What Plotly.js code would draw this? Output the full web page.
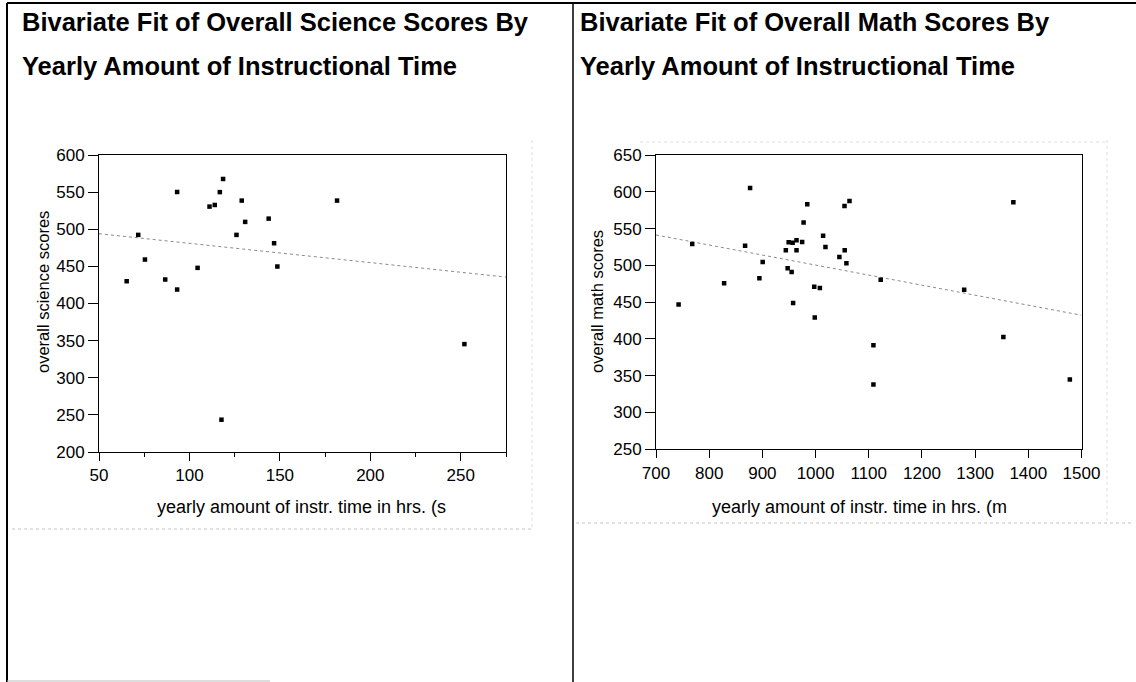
<!DOCTYPE html>
<html>
<head>
<meta charset="utf-8">
<script src="https://cdn.plot.ly/plotly-3.0.1.min.js"></script>
<style>html,body{margin:0;padding:0;background:#fff;}#chart{width:1136px;height:682px;}</style>
</head>
<body>
<div id="chart"></div>
<script>
// ---- Data ----
const sciTitleLines = ["Bivariate Fit of Overall Science Scores By", "Yearly Amount of Instructional Time"];
const mathTitleLines = ["Bivariate Fit of Overall Math Scores By", "Yearly Amount of Instructional Time"];
const sciXLabel = "yearly amount of instr. time in hrs. (s";
const sciYLabel = "overall science scores";
const mathXLabel = "yearly amount of instr. time in hrs. (m";
const mathYLabel = "overall math scores";

const sciTime  = [118.6, 93.2, 116.8, 128.9, 181.6, 111.1, 114.0, 130.8, 143.8, 71.7, 126.0, 146.8, 75.4, 104.5, 148.6, 65.3, 86.6, 93.2, 252.0, 117.7];
const sciScore = [567.7, 550.2, 550.0, 538.6, 538.6, 530.5, 532.7, 509.9, 514.3, 492.4, 492.4, 481.2, 459.2, 448.0, 449.8, 430.0, 432.3, 418.8, 345.3, 243.5];
const sciFitX = [50, 275];
const sciFitY = [494.0, 435.6];

const mathTime  = [876.9, 984.4, 1054.4, 1063.8, 1371.9, 977.5, 1014.2, 768.1, 867.5, 949.4, 956.9, 964.2, 974.8, 1018.6, 944.1, 964.2, 1054.8, 1044.8, 1058.0, 900.6, 947.5, 955.0, 894.4, 1122.5, 828.1, 997.5, 1008.1, 1279.4, 742.5, 957.8, 998.5, 1108.8, 1353.1, 1108.8, 1478.1];
const mathScore = [605.2, 583.0, 580.7, 587.5, 585.7, 558.3, 540.4, 529.1, 526.8, 531.3, 530.9, 534.3, 531.8, 525.0, 520.5, 520.5, 520.5, 511.4, 502.8, 504.6, 496.0, 491.0, 482.4, 480.6, 475.6, 471.1, 469.3, 467.0, 446.7, 448.9, 429.0, 391.4, 402.7, 338.0, 344.7];
const mathFitX = [700, 1500];
const mathFitY = [541.3, 432.2];

const sciXTicks = [50, 100, 150, 200, 250];
const sciYTicks = [200, 250, 300, 350, 400, 450, 500, 550, 600];
const mathXTicks = [700, 800, 900, 1000, 1100, 1200, 1300, 1400, 1500];
const mathYTicks = [250, 300, 350, 400, 450, 500, 550, 600, 650];

// ---- Layout helpers (pixel -> paper) ----
const W = 1136, H = 682;
const px = x => x / W;
const py = y => 1 - y / H;
const FONT = '"Liberation Sans", Arial, Helvetica, sans-serif';

const marker = {symbol: 'square', size: 4.5, color: '#000', line: {width: 0}};
const fitLine = {color: '#8a8a8a', width: 1, dash: 'dot'};

const traces = [
  {x: sciFitX, y: sciFitY, mode: 'lines', line: fitLine, xaxis: 'x', yaxis: 'y', hoverinfo: 'skip'},
  {x: sciTime, y: sciScore, mode: 'markers', marker: marker, xaxis: 'x', yaxis: 'y'},
  {x: mathFitX, y: mathFitY, mode: 'lines', line: fitLine, xaxis: 'x2', yaxis: 'y2', hoverinfo: 'skip'},
  {x: mathTime, y: mathScore, mode: 'markers', marker: marker, xaxis: 'x2', yaxis: 'y2'}
];

const axBase = {
  showline: true, linecolor: '#000', linewidth: 1, mirror: true,
  showgrid: false, zeroline: false, ticks: 'outside', tickcolor: '#000', tickwidth: 1,
  tickfont: {family: FONT, size: 17, color: '#000'}, fixedrange: true
};

const layout = {
  width: W, height: H,
  margin: {l: 0, r: 0, t: 0, b: 0},
  paper_bgcolor: '#fff', plot_bgcolor: '#fff',
  showlegend: false,
  font: {family: FONT, color: '#000'},
  xaxis: Object.assign({}, axBase, {domain: [px(99), px(506)], range: [50, 275], tickvals: sciXTicks, ticklen: 8,
    minor: {dtick: 25, tick0: 50, ticks: 'outside', ticklen: 4, tickcolor: '#000', showgrid: false}, anchor: 'y'}),
  yaxis: Object.assign({}, axBase, {domain: [py(452), py(155)], range: [200, 600], tickvals: sciYTicks, ticklen: 10, anchor: 'x'}),
  xaxis2: Object.assign({}, axBase, {domain: [px(656), px(1081.5)], range: [700, 1500], tickvals: mathXTicks, ticklen: 8, anchor: 'y2'}),
  yaxis2: Object.assign({}, axBase, {domain: [py(449.3), py(155)], range: [250, 650], tickvals: mathYTicks, ticklen: 10, anchor: 'x2'}),
  annotations: [
    {text: '<b>' + sciTitleLines[0] + '</b>', x: px(20), y: py(22), xanchor: 'left', yanchor: 'middle'},
    {text: '<b>' + sciTitleLines[1] + '</b>', x: px(20), y: py(66), xanchor: 'left', yanchor: 'middle'},
    {text: '<b>' + mathTitleLines[0] + '</b>', x: px(578), y: py(22), xanchor: 'left', yanchor: 'middle'},
    {text: '<b>' + mathTitleLines[1] + '</b>', x: px(578), y: py(66), xanchor: 'left', yanchor: 'middle'}
  ].map(a => Object.assign({xref: 'paper', yref: 'paper', showarrow: false, font: {family: FONT, size: 25.5, color: '#000'}}, a))
  .concat([
    {text: sciXLabel, x: px(301), y: py(507), font: {family: FONT, size: 18, color: '#000'}},
    {text: mathXLabel, x: px(859), y: py(507), font: {family: FONT, size: 18, color: '#000'}},
    {text: sciYLabel, x: px(43), y: py(292), textangle: -90, font: {family: FONT, size: 16.5, color: '#000'}},
    {text: mathYLabel, x: px(597), y: py(302), textangle: -90, font: {family: FONT, size: 16.5, color: '#000'}}
  ].map(a => Object.assign({xref: 'paper', yref: 'paper', showarrow: false, xanchor: 'center', yanchor: 'middle'}, a))),
  shapes: [
    // page frame
    {type: 'line', x0: px(7), x1: px(1136), y0: py(3), y1: py(3), line: {color: '#000', width: 2}},
    {type: 'line', x0: px(7), x1: px(7), y0: py(3), y1: py(682), line: {color: '#000', width: 2}},
    {type: 'line', x0: px(573), x1: px(573), y0: py(3), y1: py(682), line: {color: '#000', width: 1.5}},
    {type: 'line', x0: px(7), x1: px(270), y0: py(681), y1: py(681), line: {color: '#bbb', width: 1}},
    // faint graph frame remnants
    {type: 'line', x0: px(12), x1: px(532), y0: py(529), y1: py(529), line: {color: '#c4c4c4', width: 1, dash: 'dot'}},
    {type: 'line', x0: px(532), x1: px(532), y0: py(140), y1: py(529), line: {color: '#dddddd', width: 1, dash: 'dot'}},
    {type: 'line', x0: px(576), x1: px(1134), y0: py(523), y1: py(523), line: {color: '#c4c4c4', width: 1, dash: 'dot'}},
    {type: 'line', x0: px(1107), x1: px(1107), y0: py(140), y1: py(523), line: {color: '#dddddd', width: 1, dash: 'dot'}},
    {type: 'line', x0: px(640), x1: px(1107), y0: py(142), y1: py(142), line: {color: '#dddddd', width: 1, dash: 'dot'}}
  ].map(s => Object.assign({xref: 'paper', yref: 'paper', layer: 'below'}, s))
};

Plotly.newPlot('chart', traces, layout, {displayModeBar: false, staticPlot: true});
</script>
</body>
</html>
